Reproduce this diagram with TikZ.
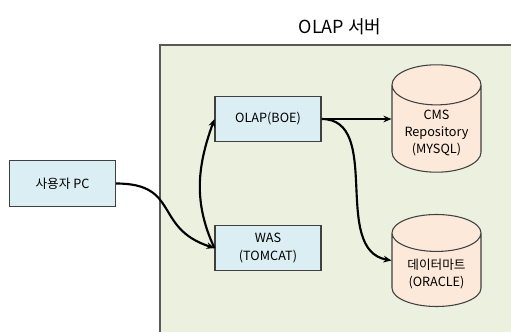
\documentclass[tikz,border=0pt]{standalone}
\usepackage{fontspec}
\setmainfont{Noto Sans CJK KR}
\usepackage{xcolor}
\definecolor{serverbg}{HTML}{EBF1DE}
\definecolor{serverbd}{HTML}{595959}
\definecolor{boxbg}{HTML}{DBEEF4}
\definecolor{boxbd}{HTML}{404040}
\definecolor{dbbg}{HTML}{FDE9D9}
\usetikzlibrary{shapes.geometric, arrows.meta, positioning}

\begin{document}
\begin{tikzpicture}[
        x=0.75pt, y=-0.75pt,
        font=\fontsize{9.5}{13}\selectfont,
        server_box/.style={
            rectangle,
            draw=serverbd,
            line width=1.5pt,
            fill=serverbg,
            anchor=north west,
            minimum width=270pt,
            minimum height=222pt
        },
        app_node/.style={
            rectangle,
            draw=boxbd,
            line width=0.8pt,
            fill=boxbg,
            align=center,
            minimum width=79.5pt,
            minimum height=34pt
        },
        db_node/.style={
            cylinder,
            shape border rotate=90,
            aspect=0.55,
            draw=boxbd,
            line width=0.8pt,
            fill=dbbg,
            align=center,
            anchor=shape center,
            minimum width=66.75pt,
            minimum height=69pt
        },
        arrow/.style={
            -{Stealth[length=6pt, width=5pt]},
            draw=black,
            line width=1.6pt
        }
    ]
    \useasboundingbox (0,0) rectangle (511,332);

    % Server area
    \node[server_box] (server) at (159,44) {};
    \node[font=\fontsize{13.5}{15}\selectfont] (title) at (340,27) {OLAP 서버};

    % Client
    \node[app_node] (client) at (62.5,183.5) {사용자 PC};

    % Applications
    \node[app_node] (olap) at (268,119) {OLAP(BOE)};
    \node[app_node, below=62pt of olap] (was) {WAS\\(TOMCAT)};

    % Databases
    \node[db_node] (cms) at (436.5,118.5) {CMS\\Repository\\(MYSQL)};
    \node[db_node] (mart) at (436.5,260.5) {데이터마트\\(ORACLE)};

    % Connections
    \draw[arrow] (client.east) to[out=0, in=162, looseness=1.4] (was.west);
    \draw[arrow] (was.west) to[out=115, in=250] (olap.west);
    \draw[arrow] (olap.east) -- (cms.west |- olap.east);
    \draw[arrow] (olap.east) to[out=0, in=170] (mart.west |- mart.shape center);

\end{tikzpicture}
\end{document}
